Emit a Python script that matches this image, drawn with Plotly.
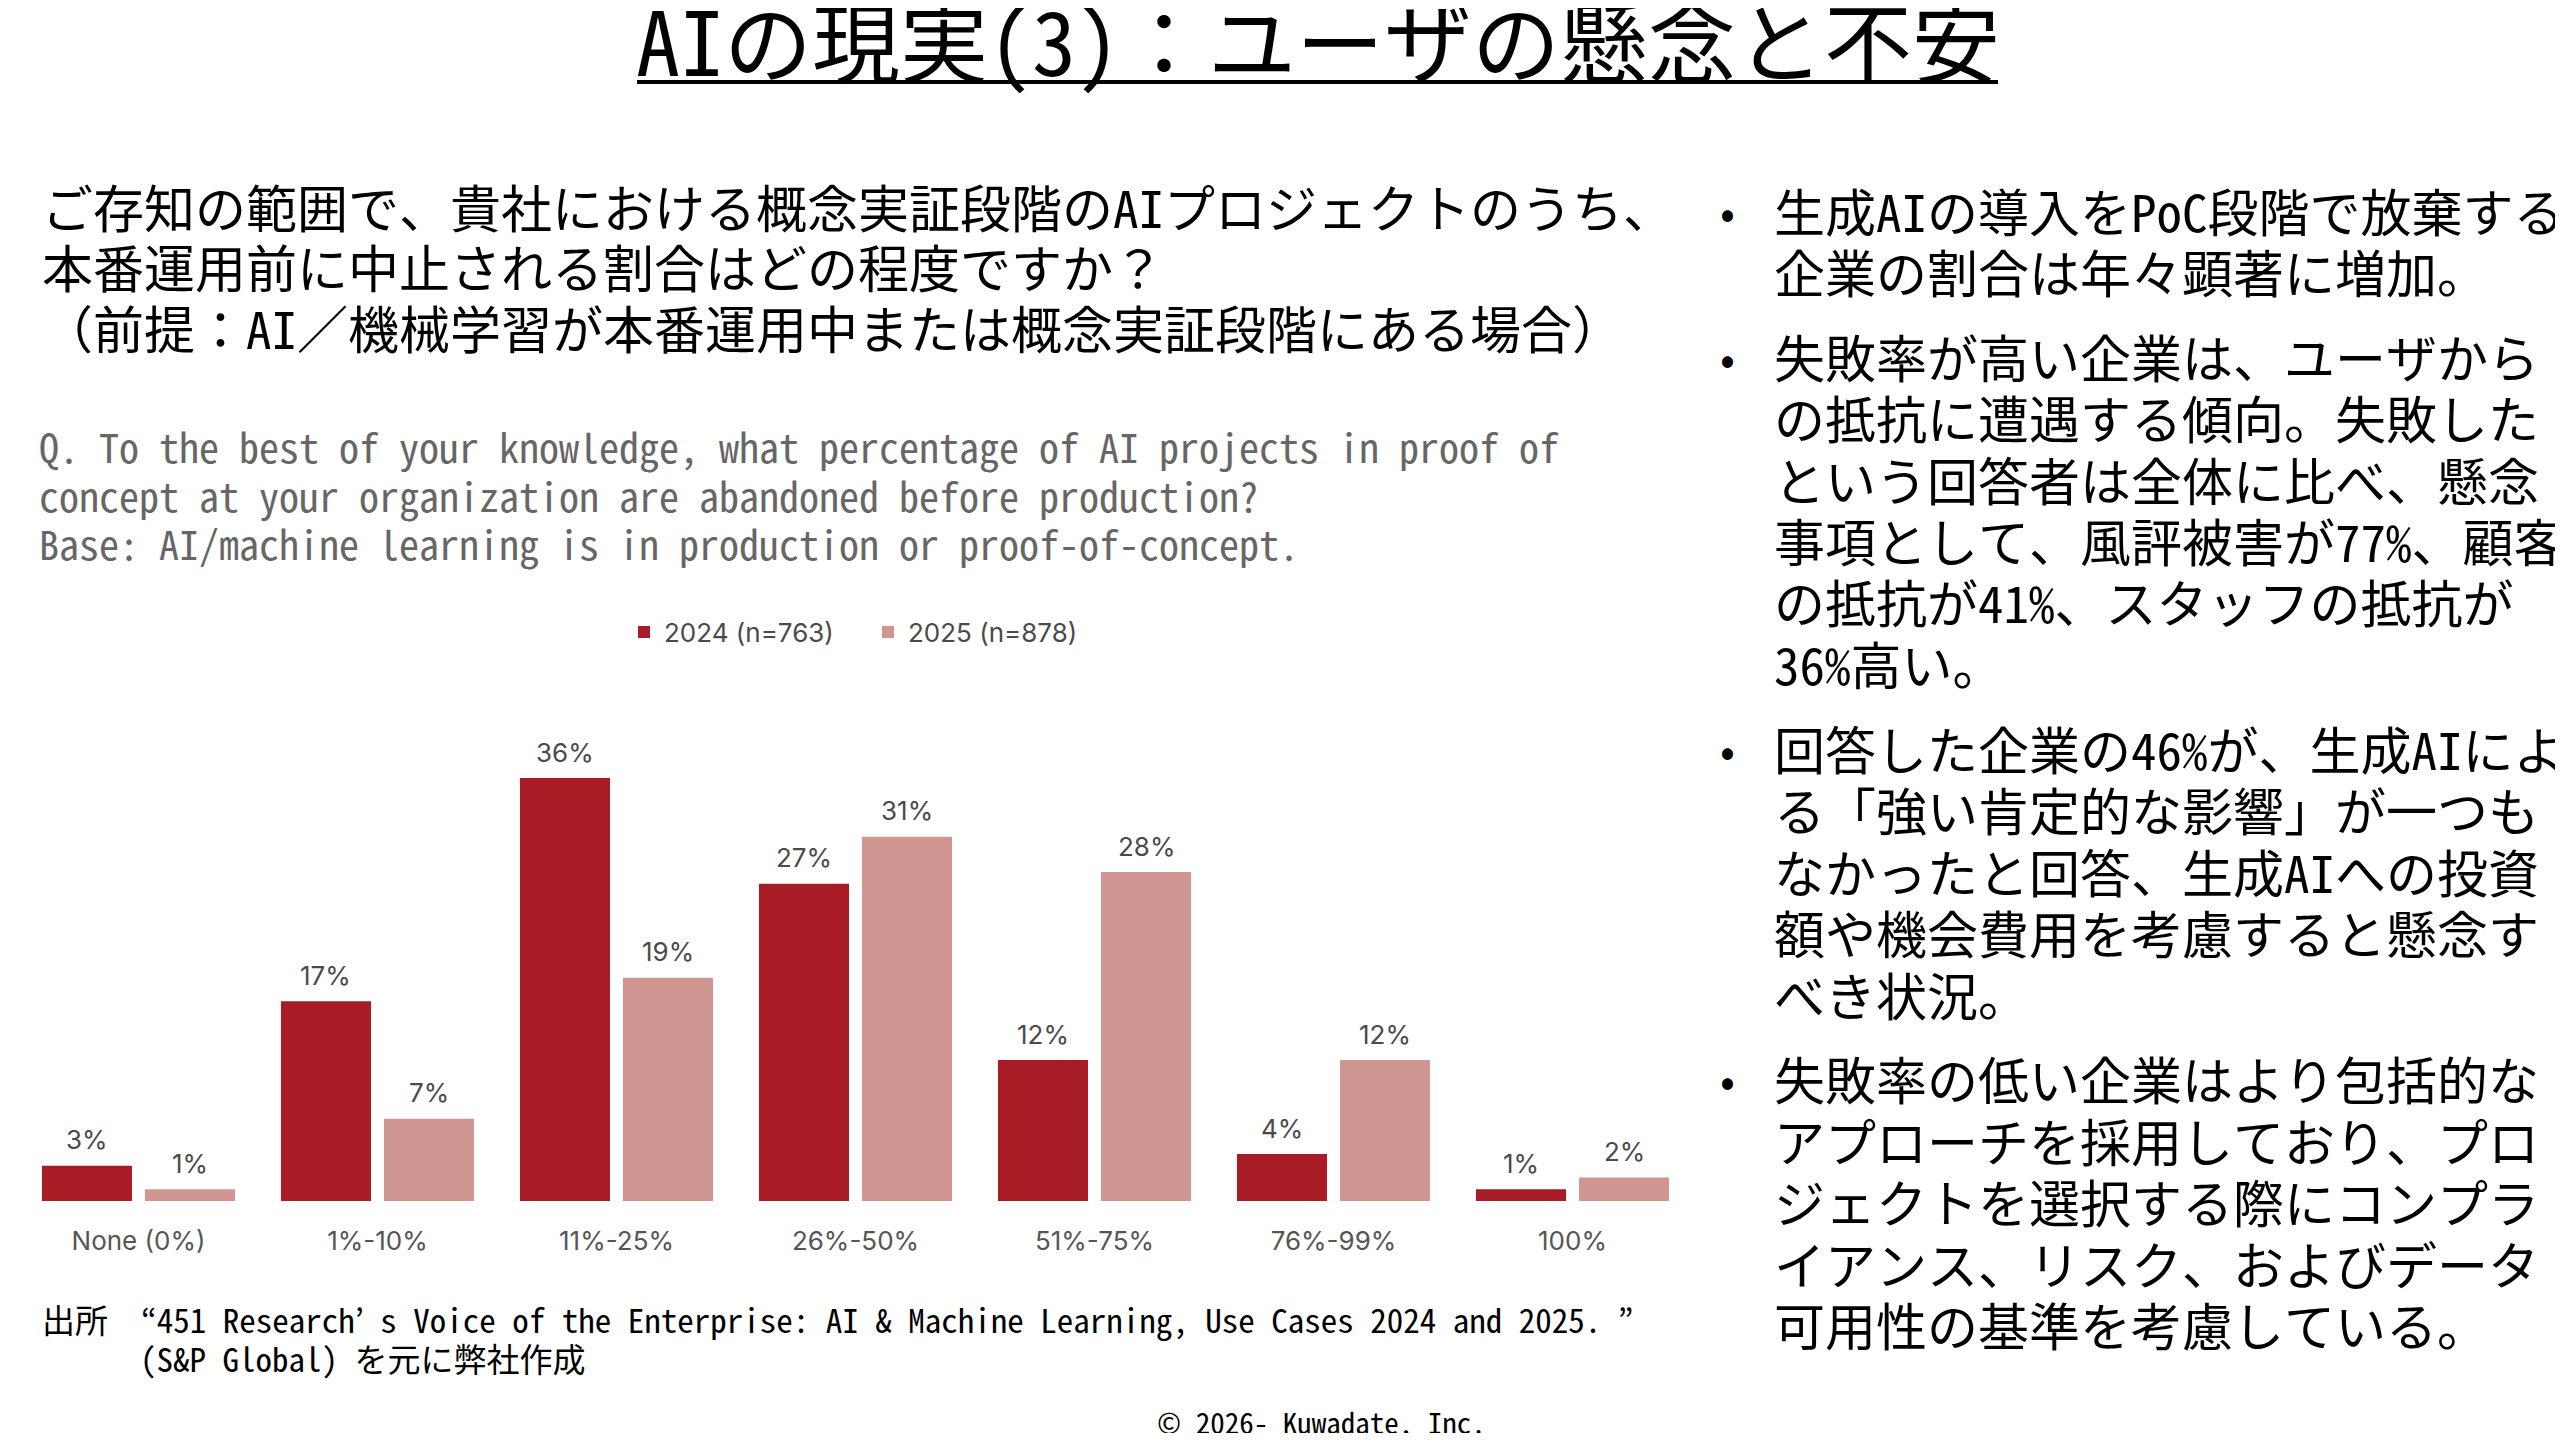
import plotly.graph_objects as go

W, H = 2563, 1441
BODY = 8  # default page margin around the plot div
FW, FH = W - 2 * BODY, H - 2 * BODY

# ---------------- data ----------------
categories = ["None (0%)", "1%-10%", "11%-25%", "26%-50%", "51%-75%", "76%-99%", "100%"]
values_2024 = [3, 17, 36, 27, 12, 4, 1]
values_2025 = [1, 7, 19, 31, 28, 12, 2]
series_names = ["2024 (n=763)", "2025 (n=878)"]

title_text = "AIの現実(3)：ユーザの懸念と不安"
question_jp = [
    "ご存知の範囲で、貴社における概念実証段階のAIプロジェクトのうち、",
    "本番運用前に中止される割合はどの程度ですか？",
    "（前提：AI／機械学習が本番運用中または概念実証段階にある場合）",
]
question_en = [
    "Q. To the best of your knowledge, what percentage of AI projects in proof of",
    "concept at your organization are abandoned before production?",
    "Base: AI/machine learning is in production or proof-of-concept.",
]
source_lines = [
    "出所　“451 Research’ s Voice of the Enterprise: AI & Machine Learning, Use Cases 2024 and 2025. ”",
    "(S&P Global) を元に弊社作成",
]
copyright_text = "© 2026- Kuwadate, Inc."
bullets = [
    ["生成AIの導入をPoC段階で放棄する", "企業の割合は年々顕著に増加。"],
    ["失敗率が高い企業は、ユーザから", "の抵抗に遭遇する傾向。失敗した",
     "という回答者は全体に比べ、懸念", "事項として、風評被害が77%、顧客",
     "の抵抗が41%、スタッフの抵抗が", "36%高い。"],
    ["回答した企業の46%が、生成AIによ", "る「強い肯定的な影響」が一つも",
     "なかったと回答、生成AIへの投資", "額や機会費用を考慮すると懸念す", "べき状況。"],
    ["失敗率の低い企業はより包括的な", "アプローチを採用しており、プロ",
     "ジェクトを選択する際にコンプラ", "イアンス、リスク、およびデータ",
     "可用性の基準を考慮している。"],
]

# ---------------- style ----------------
JP = "Noto Sans Mono CJK JP, Noto Sans CJK JP"
MONO = "Noto Sans Mono CJK JP, Liberation Mono, Noto Sans CJK JP"
SANS = "Inter, Roboto, sans-serif"
C2024 = "#A81C26"
C2025 = "#D09692"
LABEL_COL = "#4a4a4a"


def px(x):
    return (x - BODY) / FW


def py(y):
    return 1 - (y - BODY) / FH


# plot geometry (page pixels)
band = 239.0
first_center = 138.5
x_left = first_center - band / 2
x_right = x_left + band * len(categories)
baseline = 1201.0
px_per_unit = 11.75
y_max = 45
y_top = baseline - y_max * px_per_unit
bargap = 0.138
bargroupgap = 0.126
slot = band * (1 - bargap) / 2

fig = go.Figure()
for name, vals, col in [(series_names[0], values_2024, C2024), (series_names[1], values_2025, C2025)]:
    fig.add_trace(go.Bar(x=categories, y=vals, name=name, marker=dict(color=col, line=dict(width=0)),
                         hoverinfo="x+y+name"))

annotations = []
# value labels
for k, vals in enumerate([values_2024, values_2025]):
    shift = (-slot / 2) if k == 0 else (slot / 2)
    for c, v in zip(categories, vals):
        annotations.append(dict(x=c, y=v, xref="x", yref="y", text=f"{v}%", showarrow=False,
                                xshift=shift, yshift=26, yanchor="middle", xanchor="center",
                                font=dict(family=SANS, size=26, color=LABEL_COL)))

# title
annotations.append(dict(x=px(1318), y=py(38), xref="paper", yref="paper", showarrow=False,
                        text=title_text, xanchor="center", yanchor="middle",
                        font=dict(family=JP, size=88, color="black")))

# Japanese question
for i, line in enumerate(question_jp):
    annotations.append(dict(x=px(40), y=py(206 + 60.5 * i), xref="paper", yref="paper", showarrow=False,
                            text=line, xanchor="left", yanchor="middle",
                            font=dict(family=JP, size=51, color="black")))

# English question
for i, line in enumerate(question_en):
    annotations.append(dict(x=px(37), y=py(446 + 48.5 * i), xref="paper", yref="paper", showarrow=False,
                            text=line, xanchor="left", yanchor="middle",
                            font=dict(family=MONO, size=40, color="#666666")))

# source
annotations.append(dict(x=px(40), y=py(1319), xref="paper", yref="paper", showarrow=False,
                        text=source_lines[0], xanchor="left", yanchor="middle",
                        font=dict(family=MONO, size=33, color="black")))
annotations.append(dict(x=px(138), y=py(1358), xref="paper", yref="paper", showarrow=False,
                        text=source_lines[1], xanchor="left", yanchor="middle",
                        font=dict(family=MONO, size=33, color="black")))

# copyright
annotations.append(dict(x=px(1321), y=py(1421), xref="paper", yref="paper", showarrow=False,
                        text=copyright_text, xanchor="center", yanchor="middle",
                        font=dict(family=MONO, size=29, color="black")))

# right bullets
y = 209.5
line_step = 61.5
para_gap = 23
for b in bullets:
    annotations.append(dict(x=px(1728), y=py(y), xref="paper", yref="paper", showarrow=False,
                            text="•", xanchor="center", yanchor="middle",
                            font=dict(family=JP, size=44, color="black")))
    for line in b:
        annotations.append(dict(x=px(1772), y=py(y), xref="paper", yref="paper", showarrow=False,
                                text=line, xanchor="left", yanchor="middle",
                                font=dict(family=JP, size=51, color="black")))
        y += line_step
    y += para_gap

shapes = [dict(type="line", xref="paper", yref="paper", x0=px(637), x1=px(1998), y0=py(82), y1=py(82),
               line=dict(color="black", width=4))]

fig.update_layout(
    width=FW, height=FH, autosize=False,
    margin=dict(l=0, r=0, t=0, b=0, pad=0),
    paper_bgcolor="white", plot_bgcolor="white",
    barmode="group", bargap=bargap, bargroupgap=bargroupgap,
    showlegend=True,
    legend=dict(orientation="h", x=px(624), y=py(632), xanchor="left", yanchor="middle",
                font=dict(family=SANS, size=26, color=LABEL_COL), bgcolor="rgba(0,0,0,0)",
                traceorder="normal", entrywidth=199, entrywidthmode="pixels"),
    xaxis=dict(domain=[px(x_left), px(x_right)], showgrid=False, zeroline=False, showline=False,
               ticks="outside", ticklen=17, tickcolor="rgba(0,0,0,0)",
               tickfont=dict(family=SANS, size=26, color="#555555")),
    yaxis=dict(domain=[py(baseline), py(y_top)], range=[0, y_max], visible=False),
    annotations=annotations,
    shapes=shapes,
)

fig.write_html("out.html")
